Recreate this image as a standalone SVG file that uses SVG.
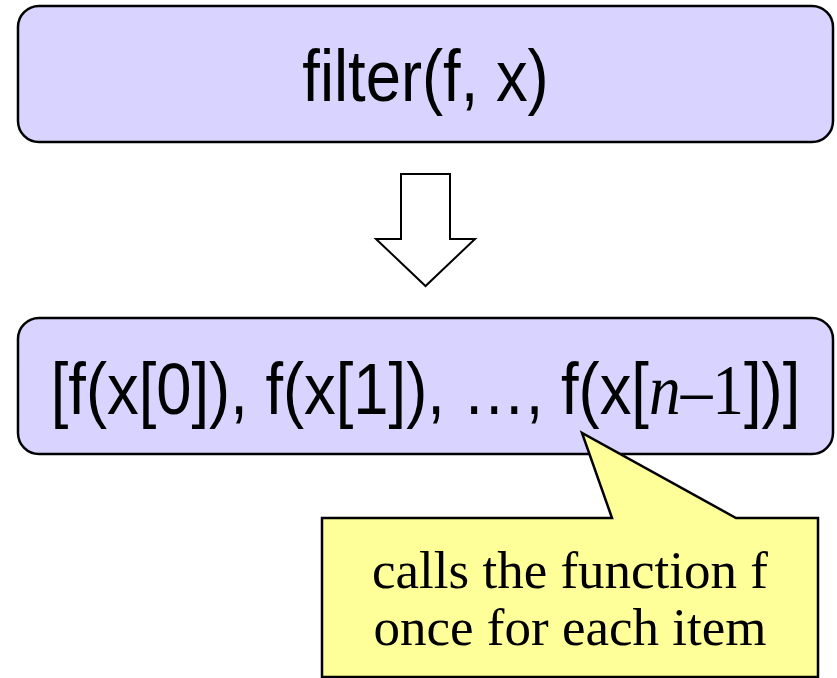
<svg xmlns="http://www.w3.org/2000/svg" width="837" height="678" viewBox="0 0 837 678">
  <style>
    .box { fill: #D9D4FF; stroke: #000; stroke-width: 2.5; }
    .code { font-family: "Liberation Sans", Arial, sans-serif; font-size: 72px; fill: #000; }
    .math { font-family: "Liberation Serif", "Times New Roman", serif; }
    .note { fill: #FFFF99; stroke: #000; stroke-width: 2.5; stroke-linejoin: miter; }
    .note-text { font-family: "Liberation Serif", "Times New Roman", serif; font-size: 53px; fill: #000; }
    .arrow { fill: #FFFFFF; stroke: #000; stroke-width: 2; stroke-linejoin: miter; }
  </style>

  <!-- call expression -->
  <g id="call">
    <rect class="box" x="18" y="6" width="815" height="136" rx="21" ry="21"/>
    <text class="code" transform="translate(425.5 101) scale(0.88 1)" x="0" y="0" text-anchor="middle">filter(f, x)</text>
  </g>

  <!-- block arrow between the two boxes -->
  <g id="connectors">
    <polygon class="arrow" points="401,174 450,174 450,239 475,239 425.5,286 376,239 401,239"/>
  </g>

  <!-- expanded result -->
  <g id="result">
    <rect class="box" x="18" y="318" width="815" height="136" rx="21" ry="21"/>
    <text class="code" transform="translate(425.5 414) scale(0.88 1)" x="0" y="0" text-anchor="middle">[f(x[0]), f(x[1]), …, f(x[<tspan class="math" font-style="italic">n</tspan><tspan class="math">–1</tspan>])]</text>
  </g>

  <!-- callout note -->
  <g id="note">
    <polygon class="note" points="322,518 612,518 582,433 736,518 818,518 818,677 322,677"/>
    <text class="note-text" x="570" y="588" text-anchor="middle">calls the function f</text>
    <text class="note-text" x="570" y="645" text-anchor="middle">once for each item</text>
  </g>
</svg>
